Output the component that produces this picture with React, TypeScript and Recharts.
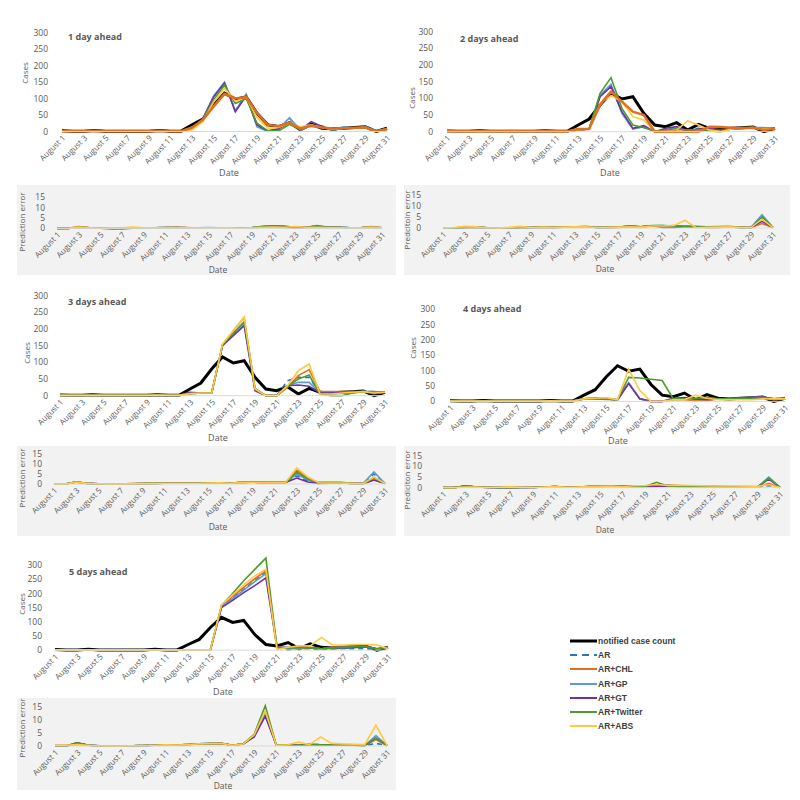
import React from 'react';
import { LineChart, Line, XAxis, YAxis } from 'recharts';

// ---------- categories / ticks ----------
const days = [1,2,3,4,5,6,7,8,9,10,11,12,13,14,15,16,17,18,19,20,21,22,23,24,25,26,27,28,29,30,31];
const dayTicks = [1,3,5,7,9,11,13,15,17,19,21,23,25,27,29,31];
const caseTicks = [0,50,100,150,200,250,300];
const errTicks = [0,5,10,15];

// ---------- notified case count ----------
const notified = [2,1,1,3,1,1,1,1,1,3,1,1,20,38,80,116,98,105,55,20,15,27,5,22,10,8,10,12,14,0,10];

// ---------- 1 day ahead ----------
const p1AR  = [1,1,1,1,1,1,1,1,1,2,1,1,8,36,105,148,64,110,18,1,6,40,5,16,17,3,13,10,16,1,9];
const p1CHL = [1,1,1,2,1,1,1,1,1,2,1,1,12,35,76,114,100,104,56,20,16,27,9,17,12,9,10,11,12,1,7];
const p1GP  = [1,1,1,1,1,1,1,1,1,2,1,1,8,38,108,150,62,113,14,0,8,42,4,18,16,2,14,10,15,1,9];
const p1GT  = [1,1,1,1,1,1,1,1,1,2,1,1,8,38,105,147,60,108,20,2,8,26,5,30,15,5,10,10,12,1,8];
const p1TW  = [1,1,1,1,1,1,1,1,1,2,1,1,8,37,96,140,85,100,25,2,2,22,6,20,12,5,10,11,12,1,8];
const p1ABS = [1,1,1,1,1,1,1,1,1,2,1,1,5,30,90,130,92,104,42,10,12,26,14,20,12,8,10,10,12,1,5];

// ---------- 2 days ahead ----------
const p2AR  = [1,1,1,1,1,1,1,1,1,2,1,1,5,8,108,140,58,10,14,0,6,12,4,10,8,4,8,10,12,10,9];
const p2CHL = [1,1,1,1,1,1,1,1,1,2,1,1,8,8,80,120,90,60,50,0,0,0,0,0,15,14,12,10,12,5,8];
const p2GP  = [1,1,1,1,1,1,1,1,1,2,1,1,5,8,110,142,55,8,15,0,5,10,3,8,8,3,8,11,12,12,10];
const p2GT  = [1,1,1,1,1,1,1,1,1,2,1,1,5,8,105,135,60,10,18,0,10,15,2,8,10,5,8,10,12,8,9];
const p2TW  = [1,1,1,1,1,1,1,1,1,2,1,1,5,8,115,162,70,20,12,2,5,8,5,6,2,0,8,12,12,8,9];
const p2ABS = [1,1,1,1,1,1,1,1,1,2,1,1,6,8,85,108,90,45,35,0,0,5,32,20,5,0,8,10,12,8,8];

// ---------- 3 days ahead ----------
const p3AR  = [1,1,1,1,1,1,1,1,1,2,1,1,6,8,8,152,185,220,20,0,0,45,55,55,8,8,8,10,12,12,10];
const p3CHL = [1,1,1,1,1,1,1,1,1,2,1,1,8,8,8,152,195,235,18,0,0,25,60,78,12,12,12,12,12,10,10];
const p3GP  = [1,1,1,1,1,1,1,1,1,2,1,1,6,8,8,150,185,218,20,0,0,30,40,40,8,8,8,10,12,12,10];
const p3GT  = [1,1,1,1,1,1,1,1,1,2,1,1,10,8,8,150,180,210,15,0,0,30,32,28,8,8,10,10,12,5,10];
const p3TW  = [1,1,1,1,1,1,1,1,1,2,1,1,6,8,8,152,188,222,22,0,0,28,50,62,5,0,0,8,12,10,10];
const p3ABS = [1,1,1,1,1,1,1,1,1,2,1,1,6,8,8,155,195,235,20,0,0,30,75,95,5,5,8,10,12,8,10];

// ---------- 4 days ahead ----------
const p4AR  = [1,1,1,1,1,1,1,1,1,2,1,1,8,10,8,5,60,8,0,0,5,10,8,10,8,8,10,12,14,8,10];
const p4CHL = [1,1,1,1,1,1,1,1,1,2,1,1,8,10,8,5,60,8,0,0,5,5,2,2,8,8,10,12,14,5,8];
const p4GP  = [1,1,1,1,1,1,1,1,1,2,1,1,8,10,8,5,60,8,0,0,5,10,8,10,8,8,10,12,14,8,10];
const p4GT  = [1,1,1,1,1,1,1,1,1,2,1,1,8,10,8,5,58,8,0,0,10,12,8,5,8,8,10,12,14,8,10];
const p4TW  = [1,1,1,1,1,1,1,1,1,2,1,1,8,8,6,5,78,76,72,68,8,8,10,12,8,8,8,10,12,8,10];
const p4ABS = [1,1,1,1,1,1,1,1,1,2,1,1,8,10,12,5,105,35,0,0,5,5,20,10,5,5,5,5,8,8,8];

// ---------- 5 days ahead ----------
const p5AR  = [1,1,1,1,1,1,1,1,1,1,1,1,1,1,1,155,185,215,245,275,10,0,5,5,2,5,5,5,5,2,10];
const p5CHL = [1,1,1,1,1,1,1,1,1,1,1,1,1,1,1,155,190,222,252,280,10,5,5,8,5,10,12,14,14,5,8];
const p5GP  = [1,1,1,1,1,1,1,1,1,1,1,1,1,1,1,152,182,212,242,270,10,5,8,10,5,8,10,12,12,5,10];
const p5GT  = [1,1,1,1,1,1,1,1,1,1,1,1,1,1,1,150,176,203,228,255,10,10,12,8,5,8,10,12,12,5,10];
const p5TW  = [1,1,1,1,1,1,1,1,1,1,1,1,1,1,1,158,200,245,285,325,10,8,10,8,5,8,10,12,12,5,10];
const p5ABS = [1,1,1,1,1,1,1,1,1,1,1,1,1,1,1,160,195,230,262,285,2,10,15,15,45,18,18,20,20,18,5];

// ---------- prediction errors, 1 day ahead ----------
const e1AR  = [0,0,0.5,0.3,0.1,0,0,0.1,0.2,0.3,0.4,0.4,0.3,0.2,0.3,0.2,0.2,0.1,0.3,0.8,1.0,0.8,0.3,0.4,1.2,0.6,0.5,0.3,0.3,0.5,0.2];
const e1CHL = [0,0,0.9,0.4,0.1,0,0,0.2,0.3,0.2,0.3,0.5,0.4,0.1,0.2,0.3,0.2,0.1,0.2,0.5,0.6,0.4,0.6,0.3,0.5,0.3,0.3,0.2,0.3,0.8,0.3];
const e1GP  = [0,0,0.4,0.3,0.1,0,0,0.1,0.2,0.3,0.4,0.4,0.3,0.2,0.4,0.3,0.2,0.1,0.4,0.9,1.1,0.9,0.3,0.4,1.3,0.6,0.6,0.3,0.3,0.5,0.2];
const e1GT  = [0,0,0.4,0.3,0.1,0,0,0.1,0.2,0.3,0.4,0.4,0.3,0.2,0.3,0.3,0.2,0.1,0.3,0.7,0.9,0.7,0.3,0.6,1.0,0.5,0.5,0.3,0.3,0.5,0.2];
const e1TW  = [0,0,0.5,0.3,0.1,0,0,0.1,0.2,0.3,0.4,0.4,0.3,0.2,0.3,0.3,0.2,0.1,0.4,1.0,1.2,1.1,0.4,0.4,0.9,0.5,0.5,0.3,0.3,0.5,0.2];
const e1ABS = [0,0,0.6,0.3,0.1,0.2,0.3,0.6,0.3,0.3,0.4,0.4,0.3,0.2,0.3,0.2,0.2,0.1,0.3,0.5,0.6,0.5,0.9,0.5,0.5,0.4,0.4,0.3,0.3,0.6,0.2];

// ---------- prediction errors, 2 days ahead ----------
const e2AR  = [0,0,0.3,0.4,0.1,0,0,0.2,0.2,0.4,0.3,0.4,0.5,0.6,0.2,0.3,0.4,0.8,0.5,1.0,1.0,0.8,0.7,0.6,0.4,0.5,0.5,0.3,0.2,5.5,0.2];
const e2CHL = [0,0,0.5,0.4,0.1,0,0,0.2,0.2,0.5,0.3,0.5,0.6,0.8,0.2,0.2,0.3,0.6,0.3,1.0,1.0,1.0,0.9,0.8,0.6,0.7,0.8,0.3,0.2,2.0,0.2];
const e2GP  = [0,0,0.3,0.4,0.1,0,0,0.2,0.2,0.4,0.3,0.4,0.5,0.6,0.2,0.3,0.4,0.9,0.5,1.0,1.1,0.8,0.7,0.6,0.4,0.5,0.5,0.3,0.2,6.0,0.2];
const e2GT  = [0,0,0.3,0.4,0.1,0,0,0.2,0.2,0.4,0.3,0.4,0.5,0.6,0.2,0.3,0.4,0.7,0.5,1.0,0.3,0.2,0.6,0.6,0.2,0.3,0.5,0.3,0.2,3.0,0.2];
const e2TW  = [0,0,0.3,0.4,0.1,0,0,0.2,0.2,0.4,0.3,0.4,0.5,0.6,0.2,0.3,0.4,1.0,0.6,1.1,1.1,0.9,0.8,0.6,0.4,0.5,0.5,0.3,0.2,5.0,0.2];
const e2ABS = [0,0.2,0.8,0.5,0.1,0,0.3,0.8,0.2,0.4,0.3,0.4,0.5,0.6,0.2,0.3,0.4,0.6,0.4,0.9,0.9,1.2,3.5,0.1,0.3,0.4,0.5,0.3,0.2,4.0,0.2];

// ---------- prediction errors, 3 days ahead ----------
const e3AR  = [0,0,1.0,0.3,0.1,0,0,0.1,0.2,0.3,0.4,0.4,0.4,0.4,0.5,0.6,0.4,0.8,0.9,0.7,0.9,0.8,4.0,1.5,0.5,0.5,0.5,0.3,0.2,5.0,0.2];
const e3CHL = [0,0,1.0,0.3,0.1,0,0,0.2,0.2,0.3,0.4,0.4,0.4,0.4,0.5,0.6,0.4,0.9,0.9,0.7,0.9,0.8,7.0,3.0,0.6,0.5,0.5,0.3,0.2,2.0,0.2];
const e3GP  = [0,0,1.0,0.3,0.1,0,0,0.1,0.2,0.3,0.4,0.4,0.4,0.4,0.5,0.6,0.4,0.8,0.9,0.7,0.9,0.8,5.0,2.0,0.5,0.5,0.5,0.3,0.2,6.0,0.2];
const e3GT  = [0,0,1.0,0.3,0.1,0,0,0.1,0.2,0.3,0.4,0.4,0.4,0.4,0.5,0.6,0.4,0.8,0.9,0.7,0.9,0.8,3.0,1.0,0.3,0.4,0.5,0.3,0.2,2.0,0.2];
const e3TW  = [0,0,1.0,0.3,0.1,0,0,0.1,0.2,0.3,0.4,0.4,0.4,0.4,0.5,0.6,0.4,0.8,0.9,0.7,0.9,0.8,6.0,2.5,0.8,0.9,0.9,0.3,0.2,3.0,0.2];
const e3ABS = [0,0,1.0,0.3,0.1,0,0,0.2,0.2,0.3,0.4,0.4,0.4,0.4,0.5,0.6,0.4,0.8,0.9,0.7,0.9,0.8,8.0,3.5,0.6,0.5,0.5,0.3,0.2,3.5,0.2];

// ---------- prediction errors, 4 days ahead ----------
const e4AR  = [0,0,0.8,0.3,0.1,0,0,0.1,0.1,0.3,0.5,0.2,0.3,0.5,0.6,0.8,0.9,0.4,0.5,0.6,1.0,0.6,0.5,0.4,0.4,0.4,0.3,0.3,0.2,1.0,0.1];
const e4CHL = [0,0,0.8,0.3,0.1,0,0,0.1,0.1,0.3,0.5,0.2,0.3,0.5,0.6,0.8,0.9,0.4,0.5,0.6,1.2,1.0,0.9,0.8,0.7,0.5,0.3,0.3,0.2,2.0,0.1];
const e4GP  = [0,0,0.8,0.3,0.1,0,0,0.1,0.1,0.3,0.5,0.2,0.3,0.5,0.6,0.8,0.9,0.4,0.5,0.6,1.0,0.6,0.5,0.4,0.4,0.4,0.3,0.3,0.2,5.0,0.1];
const e4GT  = [0,0,0.8,0.3,0.1,0,0,0.1,0.1,0.3,0.5,0.2,0.3,0.5,0.6,0.8,0.6,0.9,0.8,0.7,0.7,0.6,0.5,0.5,0.4,0.4,0.4,0.4,0.3,4.0,0.1];
const e4TW  = [0,0,0.8,0.3,0.1,0,0,0.1,0.1,0.3,0.5,0.2,0.3,0.5,0.6,0.8,0.3,0.4,0.5,2.5,0.8,0.6,0.5,0.4,0.4,0.4,0.3,0.3,0.2,4.5,0.1];
const e4ABS = [0,0,0.3,0.3,0.1,0.2,0.4,0.2,0.1,0.3,0.5,0.2,0.3,0.5,0.6,0.8,0.5,0.9,1.0,1.5,1.0,1.0,1.0,0.9,0.8,0.8,0.8,0.7,0.6,1.5,0.1];

// ---------- prediction errors, 5 days ahead ----------
const e5AR  = [0,0,1.2,0.3,0.1,0,0,0.1,0.2,0.3,0.5,0.4,0.6,0.8,0.9,1.0,0.3,0.8,3.8,12.0,0.3,0.5,0.3,0.6,0.5,0.4,0.3,0.3,0.2,1.0,0.2];
const e5CHL = [0.3,0.3,0.6,0.3,0.1,0,0,0.1,0.2,0.3,0.5,0.4,0.6,0.8,0.9,1.0,0.3,0.8,4.0,12.5,0.3,0.5,0.3,0.6,0.5,0.4,0.3,0.3,0.2,2.5,0.2];
const e5GP  = [0,0,1.2,0.3,0.1,0,0,0.1,0.2,0.3,0.5,0.4,0.6,0.8,0.9,1.0,0.3,0.8,3.8,12.5,0.3,0.5,0.3,0.6,0.5,0.4,0.3,0.3,0.2,4.0,0.2];
const e5GT  = [0,0,1.2,0.3,0.1,0,0,0.1,0.2,0.3,0.5,0.4,0.6,0.8,0.9,1.0,0.3,0.8,3.5,11.5,0.3,0.5,0.3,0.6,0.5,0.4,0.3,0.3,0.2,3.0,0.2];
const e5TW  = [0,0,1.2,0.3,0.1,0,0,0.1,0.2,0.3,0.5,0.4,0.6,0.8,0.9,1.0,0.3,0.8,4.5,15.5,0.3,0.5,0.3,0.6,0.5,0.4,0.3,0.3,0.2,3.0,0.2];
const e5ABS = [0.3,0.3,0.6,0.3,0.1,0,0,0.1,0.2,0.3,0.5,0.4,0.6,0.8,0.9,1.0,0.3,0.8,4.2,13.5,0.3,0.5,1.5,0.5,3.5,1.0,0.8,0.7,0.6,8.0,0.2];

// ---------- series styling ----------
const models = [
  { key: 'AR', name: 'AR', color: '#2E75B6', dash: '5 4' },
  { key: 'CHL', name: 'AR+CHL', color: '#E0701E', dash: undefined },
  { key: 'GP', name: 'AR+GP', color: '#5B9BD5', dash: undefined },
  { key: 'GT', name: 'AR+GT', color: '#7030A0', dash: undefined },
  { key: 'TW', name: 'AR+Twitter', color: '#4E9A2E', dash: undefined },
  { key: 'ABS', name: 'AR+ABS', color: '#FFC83D', dash: undefined },
];

type Arrs = { [k: string]: number[] };

function buildRows(arrs: Arrs) {
  return days.map((d, i) => {
    const row: any = { day: d };
    Object.keys(arrs).forEach((k) => { row[k] = arrs[k][i]; });
    return row;
  });
}

const TXT = '#595959';
const FONT = '"Open Sans", "Liberation Sans", sans-serif';

const DateTick = (props: any) => {
  const { x, y, payload } = props;
  const ax = x + 4;
  const ay = y + 5;
  return (
    <text x={ax} y={ay} transform={`rotate(-45 ${ax} ${ay})`} textAnchor="end" fontSize={8} fill={TXT} fontFamily={FONT}>
      {`August ${payload.value}`}
    </text>
  );
};

interface ChartProps {
  arrs: Arrs;
  x0: number; x1: number; yZero: number; yTop: number; topVal: number; domainMax: number;
  ticks: number[]; gap: number; notifiedOn: boolean; thickOrange?: boolean;
}

function PanelChart(p: ChartProps) {
  const plotTop = p.yZero - (p.yZero - p.yTop) * p.domainMax / p.topVal;
  const plotH = p.yZero - plotTop;
  const plotW = p.x1 - p.x0;
  const YW = 40;
  const XH = 50;
  const RM = 18;
  const rows = buildRows(p.arrs);
  const ordered = p.thickOrange
    ? [...models.filter((m) => m.key !== 'CHL')]
    : models;
  const orange = models.find((m) => m.key === 'CHL')!;
  return (
    <div style={{ position: 'absolute', left: p.x0 - YW, top: plotTop }}>
      <LineChart width={YW + plotW + RM} height={plotH + XH} data={rows} margin={{ top: 0, right: RM, bottom: 0, left: 0 }} style={{ overflow: 'visible' }}>
        <XAxis dataKey="day" type="number" domain={[1, 31]} ticks={dayTicks} interval={0} height={XH}
          tick={<DateTick />} tickLine={false} tickSize={0} tickMargin={2} axisLine={{ stroke: '#d9d9d9' }} />
        <YAxis type="number" domain={[0, p.domainMax]} ticks={p.ticks} width={YW} tickLine={false} axisLine={false}
          tickSize={0} tickMargin={p.gap} tick={{ fontSize: 8.5, fill: TXT, fontFamily: FONT }} interval={0} />
        {p.notifiedOn && (
          <Line dataKey="notified" stroke="#000" strokeWidth={3} dot={false} isAnimationActive={false} type="linear" />
        )}
        {ordered.map((m) => (
          <Line key={m.key} dataKey={m.key} stroke={m.color} strokeWidth={1.6}
            strokeDasharray={m.dash} dot={false} isAnimationActive={false} type="linear" />
        ))}
        {p.thickOrange && (
          <Line dataKey="CHL" stroke={orange.color} strokeWidth={2.5} dot={false} isAnimationActive={false} type="linear" />
        )}
      </LineChart>
    </div>
  );
}

const Txt = ({ x, y, children, size = 9, bold = false, rotate = 0, anchor = 'center' }: any) => (
  <div style={{
    position: 'absolute', left: x, top: y, fontSize: size, fontWeight: bold ? 700 : 400, color: TXT, fontFamily: FONT,
    whiteSpace: 'nowrap', lineHeight: 1,
    transform: `translate(${anchor === 'center' ? '-50%' : '0'}, -50%) rotate(${rotate}deg)`,
  }}>{children}</div>
);

const GrayBox = ({ x0, y0, x1, y1 }: any) => (
  <div style={{ position: 'absolute', left: x0, top: y0, width: x1 - x0, height: y1 - y0, background: '#f2f2f2' }} />
);

const mainPanels = [
  { title: '1 day ahead', arrs: { notified, AR: p1AR, CHL: p1CHL, GP: p1GP, GT: p1GT, TW: p1TW, ABS: p1ABS }, x0: 62, x1: 387, yZero: 131, yTop: 32, gap: 14, thick: true,
    tx: 68, ty: 36, cx: 25, cy: 73, dx: 229, dy: 172 },
  { title: '2 days ahead', arrs: { notified, AR: p2AR, CHL: p2CHL, GP: p2GP, GT: p2GT, TW: p2TW, ABS: p2ABS }, x0: 447, x1: 775, yZero: 132, yTop: 32, gap: 14, thick: true,
    tx: 460, ty: 38, cx: 412, cy: 98, dx: 610, dy: 172 },
  { title: '3 days ahead', arrs: { notified, AR: p3AR, CHL: p3CHL, GP: p3GP, GT: p3GT, TW: p3TW, ABS: p3ABS }, x0: 60, x1: 385, yZero: 396, yTop: 296, gap: 12, thick: false,
    tx: 68, ty: 301, cx: 27, cy: 353, dx: 218, dy: 437 },
  { title: '4 days ahead', arrs: { notified, AR: p4AR, CHL: p4CHL, GP: p4GP, GT: p4GT, TW: p4TW, ABS: p4ABS }, x0: 450, x1: 785, yZero: 401, yTop: 309, gap: 15, thick: false,
    tx: 463, ty: 308, cx: 413, cy: 348, dx: 618, dy: 440 },
  { title: '5 days ahead', arrs: { notified, AR: p5AR, CHL: p5CHL, GP: p5GP, GT: p5GT, TW: p5TW, ABS: p5ABS }, x0: 55, x1: 388, yZero: 650, yTop: 565, gap: 13, thick: false,
    tx: 69, ty: 571, cx: 22, cy: 604, dx: 223, dy: 691 },
];

const errPanels = [
  { label: 'Prediction error', arrs: { AR: e1AR, CHL: e1CHL, GP: e1GP, GT: e1GT, TW: e1TW, ABS: e1ABS }, x0: 57, x1: 382, yZero: 228, yTop: 197, gap: 12,
    box: [17, 185, 396, 275], lx: 22, ly: 222, dx: 218, dy: 270 },
  { label: 'Predcitoin error', arrs: { AR: e2AR, CHL: e2CHL, GP: e2GP, GT: e2GT, TW: e2TW, ABS: e2ABS }, x0: 443, x1: 773, yZero: 228, yTop: 195, gap: 22,
    box: [404, 185, 790, 275], lx: 407, ly: 220, dx: 605, dy: 269 },
  { label: 'Prediction error', arrs: { AR: e3AR, CHL: e3CHL, GP: e3GP, GT: e3GT, TW: e3TW, ABS: e3ABS }, x0: 54, x1: 385, yZero: 484, yTop: 454, gap: 12,
    box: [17, 446, 396, 536], lx: 22, ly: 478, dx: 218, dy: 527 },
  { label: 'Prediciton error', arrs: { AR: e4AR, CHL: e4CHL, GP: e4GP, GT: e4GT, TW: e4TW, ABS: e4ABS }, x0: 443, x1: 780, yZero: 488, yTop: 456, gap: 21,
    box: [404, 446, 790, 536], lx: 407, ly: 480, dx: 605, dy: 530 },
  { label: 'Prediction error', arrs: { AR: e5AR, CHL: e5CHL, GP: e5GP, GT: e5GT, TW: e5TW, ABS: e5ABS }, x0: 55, x1: 387, yZero: 746, yTop: 707, gap: 13,
    box: [17, 698, 396, 790], lx: 22, ly: 728, dx: 223, dy: 786 },
];

const legendItems = [
  { name: 'notified case count', color: '#000', width: 3, dash: undefined },
  ...models.map((m) => ({ name: m.name, color: m.color, width: 2, dash: m.dash })),
];

export default function App() {
  return (
    <div style={{ position: 'absolute', left: 0, top: 0, width: 800, height: 800, background: '#fff', overflow: 'hidden', fontFamily: FONT }}>
      {errPanels.map((e, i) => (
        <GrayBox key={'g' + i} x0={e.box[0]} y0={e.box[1]} x1={e.box[2]} y1={e.box[3]} />
      ))}
      {mainPanels.map((m, i) => (
        <React.Fragment key={'m' + i}>
          <PanelChart arrs={m.arrs as Arrs} x0={m.x0} x1={m.x1} yZero={m.yZero} yTop={m.yTop} topVal={300} domainMax={350}
            ticks={caseTicks} gap={m.gap} notifiedOn={true} thickOrange={m.thick} />
          <Txt x={m.tx} y={m.ty} bold size={9} anchor="left">{m.title}</Txt>
          <Txt x={m.cx} y={m.cy} size={8} rotate={-90}>Cases</Txt>
          <Txt x={m.dx} y={m.dy} size={9}>Date</Txt>
        </React.Fragment>
      ))}
      {errPanels.map((e, i) => (
        <React.Fragment key={'e' + i}>
          <PanelChart arrs={e.arrs as Arrs} x0={e.x0} x1={e.x1} yZero={e.yZero} yTop={e.yTop} topVal={15} domainMax={20}
            ticks={errTicks} gap={e.gap} notifiedOn={false} />
          <Txt x={e.lx} y={e.ly} size={8} rotate={-90}>{e.label}</Txt>
          <Txt x={e.dx} y={e.dy} size={8.5}>Date</Txt>
        </React.Fragment>
      ))}
      <div style={{ position: 'absolute', left: 570, top: 635 }}>
        {legendItems.map((it, i) => (
          <div key={it.name} style={{ position: 'absolute', left: 0, top: i * 14.2, display: 'flex', alignItems: 'center', height: 12, whiteSpace: 'nowrap' }}>
            <svg width={28} height={12} style={{ display: 'block' }}>
              <line x1={0} y1={6} x2={27} y2={6} stroke={it.color} strokeWidth={it.width} strokeDasharray={it.dash ? '7 5' : undefined} />
            </svg>
            <span style={{ fontSize: 8.5, fontWeight: 700, color: '#404040', fontFamily: '"Liberation Sans", sans-serif' }}>{it.name}</span>
          </div>
        ))}
      </div>
    </div>
  );
}
